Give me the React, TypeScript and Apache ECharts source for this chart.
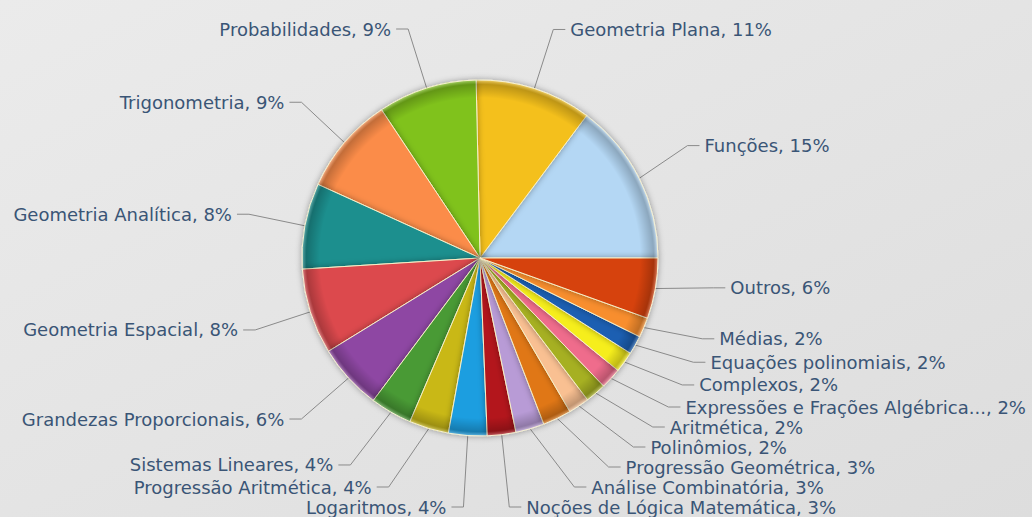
import React, { useEffect, useRef } from "react";
import * as echarts from "echarts";

const categories = [
  "Funções",
  "Geometria Plana",
  "Probabilidades",
  "Trigonometria",
  "Geometria Analítica",
  "Geometria Espacial",
  "Grandezas Proporcionais",
  "Sistemas Lineares",
  "Progressão Aritmética",
  "Logaritmos",
  "Noções de Lógica Matemática",
  "Análise Combinatória",
  "Progressão Geométrica",
  "Polinômios",
  "Aritmética",
  "Expressões e Frações Algébrica...",
  "Complexos",
  "Equações polinomiais",
  "Médias",
  "Outros",
];

// estimated shares (%)
const shares = [
  14.8, 10.6, 9.0, 8.9, 7.8, 7.8, 6.0, 3.8, 3.6, 3.5,
  2.6, 2.6, 2.6, 1.9, 1.9, 1.9, 1.9, 1.7, 1.8, 5.5,
];

// percentages shown in the labels
const labelPercents = [15, 11, 9, 9, 8, 8, 6, 4, 4, 4, 3, 3, 3, 2, 2, 2, 2, 2, 2, 6];

const colors = [
  "#b4d7f4",
  "#f4c01e",
  "#80c21a",
  "#fb8c48",
  "#1a8f8e",
  "#dc4a4e",
  "#8e46a3",
  "#4a9a36",
  "#c9b812",
  "#1e9ee0",
  "#b3141c",
  "#b89bd6",
  "#e07712",
  "#f9c092",
  "#a6b020",
  "#ef6c8c",
  "#f6ee1e",
  "#1d5fb2",
  "#f88e2e",
  "#d6420f",
];

const CX = 480;
const CY = 258;
const R = 178;

export default function App() {
  const ref = useRef<HTMLDivElement>(null);
  useEffect(() => {
    if (!ref.current) return;
    const chart = echarts.init(ref.current, null, { renderer: "svg" });
    chart.setOption({
      animation: false,
      backgroundColor: {
        type: "linear",
        x: 0,
        y: 0,
        x2: 1,
        y2: 1,
        colorStops: [
          { offset: 0, color: "#ebebeb" },
          { offset: 1, color: "#dddddd" },
        ],
      },
      graphic: [
        {
          type: "circle",
          silent: true,
          z: 100,
          shape: { cx: CX, cy: CY, r: R },
          style: {
            fill: {
              type: "radial",
              x: 0.5,
              y: 0.5,
              r: 0.5,
              colorStops: [
                { offset: 0, color: "rgba(0,0,0,0)" },
                { offset: 0.9, color: "rgba(0,0,0,0)" },
                { offset: 0.975, color: "rgba(0,0,0,0.22)" },
                { offset: 1, color: "rgba(255,255,255,0.35)" },
              ],
            },
          },
        },
      ],
      series: [
        {
          type: "pie",
          center: [CX, CY],
          radius: [0, R],
          startAngle: 0,
          clockwise: false,
          avoidLabelOverlap: true,
          itemStyle: {
            borderColor: "#f6efc8",
            borderWidth: 1,
            shadowBlur: 6,
            shadowColor: "rgba(0,0,0,0.35)",
          },
          label: {
            show: true,
            position: "outside",
            fontFamily: "DejaVu Sans",
            fontSize: 18,
            lineHeight: 16.7,
            height: 16.7,
            width: 380,
            overflow: "none",
            bleedMargin: 0,
            color: "#3a5576",
            formatter: (p: any) => `${p.name}, ${labelPercents[p.dataIndex]}%`,
          },
          labelLine: {
            show: true,
            length: 62,
            length2: 12,
            lineStyle: { color: "#8a8a8a", width: 1 },
          },
          data: categories.map((name, i) => ({
            name,
            value: shares[i],
            itemStyle: { color: colors[i] },
          })),
        },
      ],
    });
    return () => chart.dispose();
  }, []);
  return (
    <div
      ref={ref}
      style={{ position: "fixed", left: 0, top: 0, width: 1032, height: 517 }}
    />
  );
}
